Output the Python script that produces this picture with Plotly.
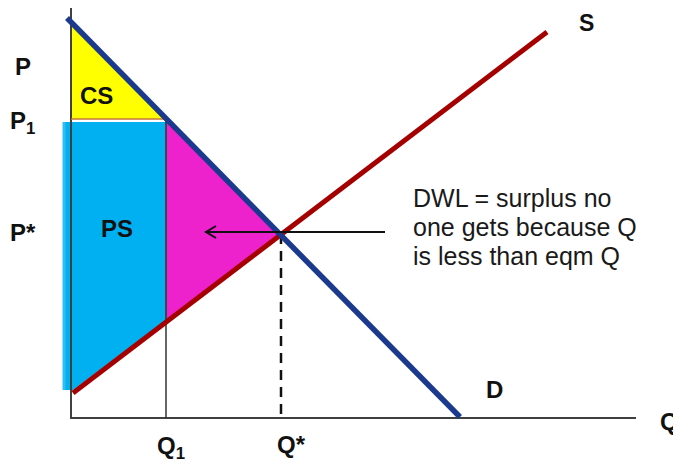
import plotly.graph_objects as go

# ---- data (economic units: quantity Q, price P) ----
Q1 = 9.5
Q_STAR = 21.0
P1 = 29.9
P_STAR = 18.4

demand_q = [-0.4, 38.9]
demand_p = [40.0, 0.1]
supply_q = [0.2, 47.6]
supply_p = [2.5, 38.6]

cs_q = [0.0, 0.0, Q1]
cs_p = [39.6, P1, P1]
ps_q = [-0.7, Q1, Q1, 0.2, -0.7]
ps_p = [P1 - 0.3, P1 - 0.3, 9.8, 2.8, 2.8]
dwl_q = [Q1, Q_STAR, Q1]
dwl_p = [P1, P_STAR, 9.8]

x_axis_end = 56.5
y_axis_top = 41.0

dwl_lines = ["DWL = surplus no", "one gets because Q", "is less than eqm Q"]

FONT = "Liberation Sans, Arial, sans-serif"

fig = go.Figure()

def add(tr):
    tr.update(showlegend=False, hoverinfo="skip")
    fig.add_trace(tr)

# fills
add(go.Scatter(x=ps_q, y=ps_p, mode="lines", fill="toself", fillcolor="#00B0F0",
               line=dict(color="#00B0F0", width=0)))
add(go.Scatter(x=[-0.7, -0.7], y=[P1 - 0.3, 2.8], mode="lines",
               line=dict(color="#2EC0F2", width=3)))
add(go.Scatter(x=cs_q, y=cs_p, mode="lines", fill="toself", fillcolor="#FFFF00",
               line=dict(color="#FFFF00", width=0)))
add(go.Scatter(x=dwl_q + [dwl_q[0]], y=dwl_p + [dwl_p[0]], mode="lines", fill="toself",
               fillcolor="#EE22CC", line=dict(color="#6B6FA8", width=1)))

# axes
add(go.Scatter(x=[0, 0, x_axis_end], y=[y_axis_top, 0, 0], mode="lines",
               line=dict(color="#404040", width=2)))

# P1 line and Q1 line
add(go.Scatter(x=[0, Q1], y=[P1, P1], mode="lines", line=dict(color="#C8743A", width=1.5)))
add(go.Scatter(x=[Q1, Q1], y=[P1, 0], mode="lines", line=dict(color="#333333", width=1.5)))

# dashed Q* line
add(go.Scatter(x=[Q_STAR, Q_STAR], y=[P_STAR, 0], mode="lines",
               line=dict(color="#111111", width=2.5, dash="10px,7px")))

# supply and demand
add(go.Scatter(x=supply_q, y=supply_p, mode="lines", line=dict(color="#A50000", width=5)))
add(go.Scatter(x=demand_q, y=demand_p, mode="lines", line=dict(color="#1B3A8E", width=5.5)))

# arrow
tail_q, tip_q = 31.4, 13.5
add(go.Scatter(x=[tail_q, tip_q, None, tip_q + 1.0, tip_q, tip_q + 1.0],
               y=[P_STAR + 0.2, P_STAR + 0.2, None, P_STAR + 0.8, P_STAR + 0.2, P_STAR - 0.4],
               mode="lines", line=dict(color="#111111", width=2)))

def label(text, x, y, size=24, bold=True, xanchor="center"):
    fig.add_annotation(x=x, y=y, text=f"<b>{text}</b>" if bold else text, showarrow=False,
                       xanchor=xanchor, yanchor="middle", borderpad=0,
                       font=dict(family=FONT, size=size, color="#111111"))

label("P", -5.7, 35.2, xanchor="left")
label("P<sub>1</sub>", -6.2, 29.6, xanchor="left")
label("P*", -6.2, 18.6, xanchor="left")
label("Q<sub>1</sub>", 8.5, -2.9, xanchor="left")
label("Q*", 20.5, -2.6, xanchor="left")
label("Q", 59.8, -0.3)
label("D", 42.3, 2.9)
label("S", 51.5, 39.5, size=23)
label("CS", 2.5, 32.3)
label("PS", 4.6, 19.0)

for i, t in enumerate(dwl_lines):
    fig.add_annotation(x=34.0, y=22.0 - 2.9 * i, text=t, showarrow=False,
                       xanchor="left", yanchor="middle",
                       font=dict(family=FONT, size=25, color="#1a1a1a"))

fig.update_layout(
    width=673, height=462,
    margin=dict(l=0, r=0, t=0, b=0),
    paper_bgcolor="white", plot_bgcolor="white",
    xaxis=dict(range=[-6.3, 61.0], visible=False, fixedrange=True),
    yaxis=dict(range=[-5.2, 41.0], visible=False, fixedrange=True),
)

fig.write_html("out.html")
